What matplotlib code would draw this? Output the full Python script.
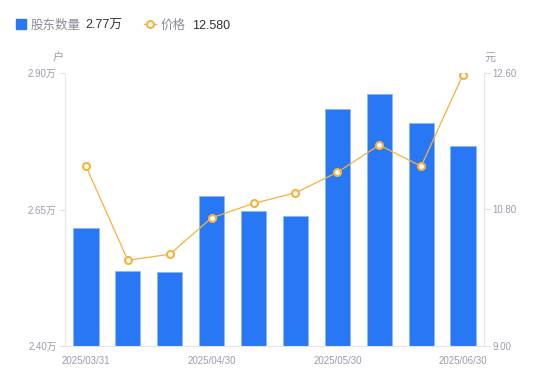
import matplotlib
matplotlib.use("Agg")
import matplotlib.pyplot as plt
from matplotlib.lines import Line2D

plt.rcParams['font.family'] = ['Liberation Sans', 'Noto Sans CJK SC', 'DejaVu Sans']

dates = ['2025/03/31', '2025/04/10', '2025/04/20', '2025/04/30', '2025/05/09',
         '2025/05/20', '2025/05/30', '2025/06/10', '2025/06/20', '2025/06/30']
holders = [2.616, 2.537, 2.535, 2.675, 2.647, 2.639, 2.834, 2.861, 2.808, 2.767]  # 万户
price = [11.37, 10.13, 10.21, 10.69, 10.88, 11.02, 11.29, 11.65, 11.37, 12.58]
left_ticks = [2.40, 2.65, 2.90]
right_ticks = [9.00, 10.80, 12.60]

bar_c = '#2878f5'
line_c = '#f7b23b'
txt_c = '#9b9dab'
ax_c = '#e3e3e8'

fig = plt.figure(figsize=(5.5, 3.81), dpi=100)
ax = fig.add_axes([65/550, 1-346/381, (484-65)/550, (346-73)/381])
x = list(range(len(dates)))
ax.bar(x, holders, width=0.6, color=bar_c, edgecolor='#8cb6fa', linewidth=0.6, zorder=2)
ax.set_xlim(-0.5, len(dates)-0.5)
ax.set_ylim(left_ticks[0], left_ticks[-1])
ax.set_yticks(left_ticks)
ax.set_yticklabels(['%.2f万' % v for v in left_ticks])
show = [0, 3, 6, 9]
ax.set_xticks(show)
ax.set_xticklabels([dates[i] for i in show])
ax.tick_params(axis='x', length=0, pad=7, labelsize=7, colors=txt_c)
ax.tick_params(axis='y', length=4, width=0.8, color=ax_c, pad=2, labelsize=7, labelcolor=txt_c)
for s in ['top', 'right']:
    ax.spines[s].set_visible(False)
for s in ['left', 'bottom']:
    ax.spines[s].set_color(ax_c)
    ax.spines[s].set_linewidth(0.8)

ax2 = ax.twinx()
ax2.plot(x, price, color=line_c, linewidth=0.9, marker='o', markersize=5,
         markerfacecolor='white', markeredgecolor=line_c, markeredgewidth=1.5, zorder=3)
ax2.set_ylim(right_ticks[0], right_ticks[-1])
ax2.set_yticks(right_ticks)
ax2.set_yticklabels(['%.2f' % v for v in right_ticks])
ax2.tick_params(axis='y', length=4, width=0.8, color=ax_c, pad=2, labelsize=7, labelcolor=txt_c)
for s in ['top', 'left', 'bottom']:
    ax2.spines[s].set_visible(False)
ax2.spines['right'].set_color(ax_c)
ax2.spines['right'].set_linewidth(0.8)

fig.text(58/550, 1-58/381, '户', fontsize=8, color=txt_c, ha='center', va='center')
fig.text(490/550, 1-58/381, '元', fontsize=8, color=txt_c, ha='center', va='center')

# legend
ly = 1-24/381
ty = 1-26/381
fig.patches.append(plt.Rectangle((16/550, 1-29/381), 10/550, 10/381, transform=fig.transFigure,
                                 color=bar_c, figure=fig))
fig.text(31/550, ty, '股东数量', fontsize=9, color='#8a8c99', va='center')
fig.text(85/550, ty, '%.2f万' % holders[-1], fontsize=9, color='#333333', va='center')
fig.lines.append(Line2D([144/550, 156/550], [ly, ly], transform=fig.transFigure, color=line_c,
                        linewidth=1))
fig.lines.append(Line2D([150/550], [ly], transform=fig.transFigure, color=line_c, marker='o',
                        markersize=5, markerfacecolor='white', markeredgewidth=1.5))
fig.text(161/550, ty, '价格', fontsize=9, color='#8a8c99', va='center')
fig.text(192/550, ty, '%.3f' % price[-1], fontsize=9, color='#333333', va='center')

fig.savefig('out.png', dpi=100)
